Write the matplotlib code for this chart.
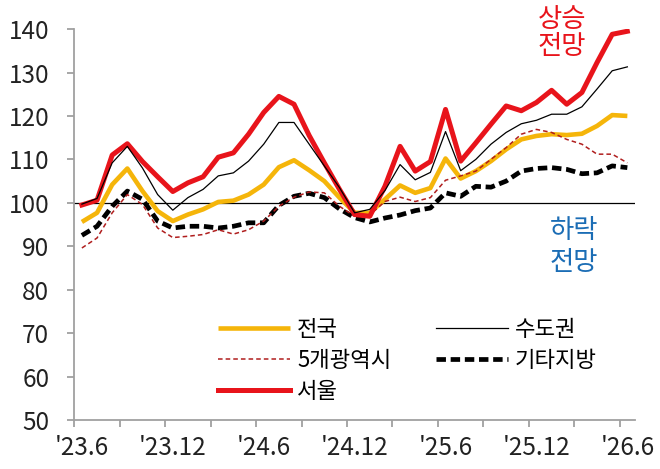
import matplotlib
matplotlib.use("Agg")
import matplotlib.pyplot as plt
import numpy as np

plt.rcParams['font.family'] = ['Noto Sans CJK KR', 'DejaVu Sans']

x_labels = ["'23.6", "'23.12", "'24.6", "'24.12", "'25.6", "'25.12", "'26.6"]
n_months = 37

national = [95.6, 97.7, 104.2, 107.9, 102.7, 98.1, 95.8, 97.3, 98.5, 100.2, 100.5, 101.9, 104.2,
            108.2, 109.8, 107.5, 105.0, 101.2, 97.7, 97.7, 100.8, 104.0, 102.3, 103.4, 110.2,
            105.6, 107.3, 109.6, 112.3, 114.6, 115.4, 115.8, 115.6, 115.9, 117.7, 120.2, 120.0]
capital = [99.7, 101.0, 109.2, 113.0, 108.0, 101.9, 98.3, 101.2, 103.1, 106.2, 106.9, 109.6, 113.5,
           118.5, 118.5, 113.5, 108.5, 103.5, 97.7, 98.5, 102.8, 108.8, 105.3, 107.0, 116.4,
           107.4, 110.0, 113.5, 116.2, 118.2, 119.0, 120.4, 120.4, 122.1, 126.2, 130.4, 131.3]
metro5 = [89.6, 91.9, 97.7, 101.9, 99.6, 94.2, 92.0, 92.3, 92.7, 93.8, 92.8, 93.8, 95.8,
          99.2, 101.3, 102.5, 102.3, 99.2, 96.9, 97.2, 100.3, 101.3, 100.3, 101.2, 105.2,
          106.2, 107.3, 110.0, 112.7, 115.8, 116.9, 116.2, 114.6, 113.5, 111.2, 111.2, 109.2]
others = [92.5, 94.6, 99.2, 102.7, 100.8, 95.8, 94.2, 94.6, 94.6, 94.2, 94.6, 95.4, 95.4,
          99.4, 101.5, 102.2, 101.2, 98.6, 96.6, 95.6, 96.5, 97.2, 98.2, 98.8, 102.3,
          101.5, 103.8, 103.6, 105.0, 107.3, 107.9, 108.1, 107.7, 106.7, 106.9, 108.5, 108.1]
seoul = [99.5, 100.6, 111.0, 113.6, 109.5, 106.0, 102.6, 104.6, 106.0, 110.5, 111.5, 115.8, 120.8,
         124.5, 122.7, 115.5, 109.2, 103.1, 97.3, 96.9, 103.8, 113.0, 107.3, 109.5, 121.5,
         109.6, 113.8, 118.1, 122.3, 121.2, 123.1, 125.9, 122.7, 125.4, 132.3, 138.8, 139.5]

x = np.arange(n_months)

fig = plt.figure(figsize=(6.6, 4.69), dpi=100)
ax = fig.add_axes([0.1126, 0.1045, 0.8494, 0.8335])

ax.axhline(100, color='black', lw=0.9, zorder=1)

l_nat, = ax.plot(x, national, color='#F5B50A', lw=3.3, label='전국', zorder=2, solid_capstyle='butt')
l_oth, = ax.plot(x, others, color='black', lw=3.4, dashes=(2.0, 1.0), label='기타지방', zorder=3)
l_met, = ax.plot(x, metro5, color='#B01E1E', lw=1.1, dashes=(3.0, 2.0), label='5개광역시', zorder=4)
l_seo, = ax.plot(x, seoul, color='#E8141B', lw=3.6, label='서울', zorder=5)
l_cap, = ax.plot(x, capital, color='black', lw=0.9, label='수도권', zorder=6)

ax.set_xlim(-0.5, n_months - 0.5)
ax.set_ylim(50, 140)
ax.set_yticks(np.arange(50, 141, 10))

ax.set_xticks(np.arange(0, n_months, 6))
ax.set_xticklabels(x_labels)
ax.set_xticks(np.arange(-0.5, n_months, 3), minor=True)
ax.tick_params(axis='x', which='major', length=0, pad=11, labelsize=17.5, colors='#222222')
ax.tick_params(axis='x', which='minor', length=5, width=1.3, color='#A0A0A0', direction='out')
ax.tick_params(axis='y', which='major', length=5, width=1.3, color='#A0A0A0', pad=13,
               labelsize=17.5, labelcolor='#222222')

for s in ['top', 'right']:
    ax.spines[s].set_visible(False)
for s in ['left', 'bottom']:
    ax.spines[s].set_color('#A0A0A0')
    ax.spines[s].set_linewidth(1.3)

leg = ax.legend(handles=[l_nat, l_met, l_seo, l_cap, l_oth], ncol=2, frameon=False,
                fontsize=16, handlelength=3.25, columnspacing=2.0, labelspacing=0.35,
                handletextpad=0.3, loc='upper left', bbox_to_anchor=(0.221, 0.312))

fig.text(562 / 660, 1 - 6 / 469, '상승\n전망', color='#E8141B', fontsize=19,
         ha='center', va='top', linespacing=1.0)
fig.text(574 / 660, 1 - 217 / 469, '하락\n전망', color='#1B6DB5', fontsize=19,
         ha='center', va='top', linespacing=1.22)

fig.savefig('out.png', dpi=100)
